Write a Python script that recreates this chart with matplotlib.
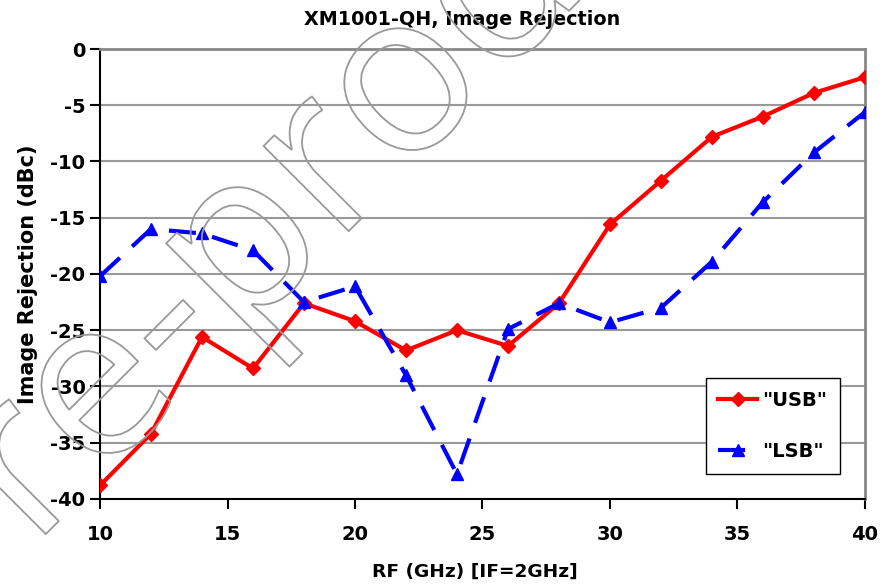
import matplotlib
matplotlib.use('Agg')
import matplotlib.pyplot as plt
import matplotlib.patheffects as pe

# Donnees
rf_ghz = [10, 12, 14, 16, 18, 20, 22, 24, 26, 28, 30, 32, 34, 36, 38, 40]
usb = [-38.8, -34.2, -25.6, -28.4, -22.6, -24.2, -26.8, -25.0, -26.4, -22.6,
       -15.6, -11.7, -7.8, -6.0, -3.9, -2.5]
lsb = [-20.2, -16.0, -16.4, -17.9, -22.5, -21.1, -29.0, -37.8, -24.9, -22.6,
       -24.3, -23.0, -18.9, -13.6, -9.2, -5.6]

x_ticks = [10, 15, 20, 25, 30, 35, 40]
y_ticks = [0, -5, -10, -15, -20, -25, -30, -35, -40]

plt.rcParams['font.family'] = ['DejaVu Sans']
plt.rcParams['font.weight'] = 'bold'
plt.rcParams['axes.unicode_minus'] = False

fig = plt.figure(figsize=(8.82, 5.87), dpi=100)
ax = fig.add_axes([0.1134, 0.150, 0.8673, 0.7665])

ax.plot(rf_ghz, usb, color='#ff0000', linewidth=3, marker='D', markersize=7,
        label='"USB"', zorder=4)
ax.plot(rf_ghz, lsb, color='#0000ff', linewidth=3, marker='^', markersize=9,
        linestyle=(0, (6.5, 4)), label='"LSB"', zorder=4)

ax.set_xlim(10, 40)
ax.set_ylim(-40, 0)
ax.set_xticks(x_ticks)
ax.set_yticks(y_ticks)
ax.tick_params(axis='both', labelsize=14, direction='out', length=7, width=1.5,
               color='black')
ax.tick_params(axis='x', pad=12)
for lab in ax.get_xticklabels() + ax.get_yticklabels():
    lab.set_fontweight('bold')

ax.yaxis.grid(True, color='#999999', linewidth=1.5)
ax.set_axisbelow(True)
for s in ['top', 'right']:
    ax.spines[s].set_color('#888888')
    ax.spines[s].set_linewidth(2)
for s in ['left', 'bottom']:
    ax.spines[s].set_color('black')
    ax.spines[s].set_linewidth(1.5)

ax.set_title('XM1001-QH, Image Rejection', fontsize=13.8, fontweight='bold',
             pad=17, x=0.473)
ax.set_xlabel('RF (GHz) [IF=2GHz]', fontsize=13.3, fontweight='bold', labelpad=13,
              x=0.490)
ax.set_ylabel('Image Rejection (dBc)', fontsize=15, fontweight='bold', labelpad=9)

leg = ax.legend(loc='lower right', bbox_to_anchor=(0.967, 0.056), fontsize=14,
                frameon=True, fancybox=False, framealpha=1, edgecolor='black',
                handlelength=2.0, borderpad=0.65, labelspacing=1.65,
                handletextpad=0.25, borderaxespad=0)
leg.get_frame().set_linewidth(1)
for t in leg.get_texts():
    t.set_fontweight('bold')

# Filigrane en contour
fig.text(-0.072, -0.096, 'Pre-production', fontsize=162, rotation=45,
         rotation_mode='anchor', ha='left', va='baseline',
         family=['Open Sans'], fontweight='normal', color='none',
         path_effects=[pe.withStroke(linewidth=1.3, foreground='#999999')],
         zorder=10)

fig.savefig('out.png', dpi=100)
